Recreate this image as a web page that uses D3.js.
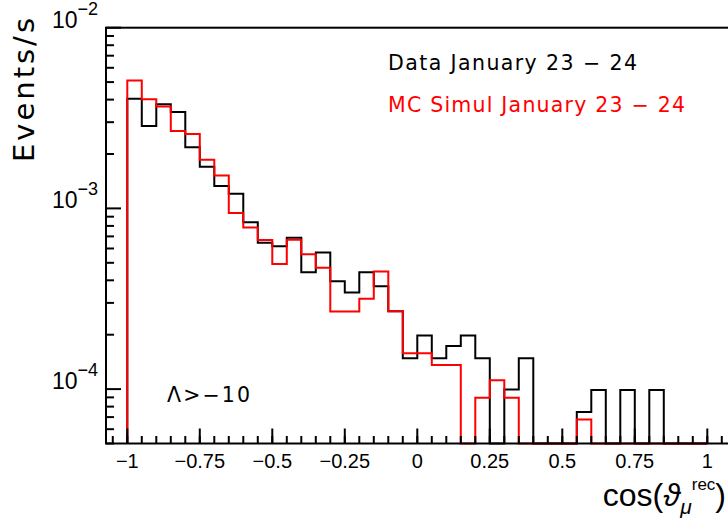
<!DOCTYPE html>
<html>
<head>
<meta charset="utf-8">
<script src="https://cdn.jsdelivr.net/npm/d3@7"></script>
<style>
  body { margin: 0; background: #fff; }
  svg { display: block; }
</style>
</head>
<body>
<script>
// bins: 40 bins of width 0.05 from -1 to 1
var binEdges = d3.range(41).map(function (i) { return -1 + i * 0.05; });

// Data January 23 - 24 (black), events/s per bin
var dataRates = [
  4.05e-3, 2.86e-3, 3.77e-3, 3.42e-3, 2.18e-3, 1.70e-3, 1.33e-3, 1.205e-3, 8.37e-4, 6.45e-4,
  6.17e-4, 6.89e-4, 4.43e-4, 5.71e-4, 3.95e-4, 3.43e-4, 4.43e-4, 3.71e-4, 2.70e-4, 1.48e-4,
  1.98e-4, 1.48e-4, 1.73e-4, 1.98e-4, 1.48e-4, 0, 9.96e-5, 1.48e-4, 0, 0,
  0, 7.46e-5, 9.9e-5, 0, 9.9e-5, 0, 9.9e-5, 0, 0, 0
];

// MC Simul January 23 - 24 (red)
var mcRates = [
  5.10e-3, 4.02e-3, 3.66e-3, 2.68e-3, 2.58e-3, 1.86e-3, 1.52e-3, 9.43e-4, 7.85e-4, 6.69e-4,
  4.93e-4, 6.71e-4, 5.57e-4, 4.70e-4, 2.69e-4, 2.69e-4, 3.16e-4, 4.47e-4, 2.70e-4, 1.58e-4,
  1.58e-4, 1.36e-4, 1.36e-4, 0, 8.97e-5, 1.12e-4, 8.97e-5, 0, 0, 0,
  0, 6.78e-5, 0, 0, 0, 0, 0, 0, 0, 0
];

var xMajorTicks = [-1, -0.75, -0.5, -0.25, 0, 0.25, 0.5, 0.75, 1];
var xTickLabels = ["\u22121", "\u22120.75", "\u22120.5", "\u22120.25", "0", "0.25", "0.5", "0.75", "1"];
var yMajorTicks = [1e-2, 1e-3, 1e-4];
var yTickExps = ["\u22122", "\u22123", "\u22124"];

var width = 728, height = 519;
var plotLeft = 106, plotTop = 27.7, plotBottom = 443.5, plotRight = 728;
var yMin = 5e-5, yMax = 1e-2;

var svg = d3.select("body").append("svg")
  .attr("width", width)
  .attr("height", height);

svg.append("rect").attr("width", width).attr("height", height).attr("fill", "#fff");

var x = d3.scaleLinear().domain([-1.0734, 1.0714]).range([plotLeft, plotRight]);
var y = d3.scaleLog().domain([yMin, yMax]).range([plotBottom, plotTop]);

// step outline like ROOT "hist" drawing
function stepPoints(vals) {
  var pts = [[binEdges[0], yMin]];
  vals.forEach(function (v, i) {
    var yv = v > 0 ? v : yMin;
    pts.push([binEdges[i], yv], [binEdges[i + 1], yv]);
  });
  pts.push([binEdges[binEdges.length - 1], yMin]);
  return pts;
}

var line = d3.line()
  .x(function (d) { return x(d[0]); })
  .y(function (d) { return y(d[1]); });

svg.append("path")
  .datum(stepPoints(dataRates))
  .attr("d", line)
  .attr("fill", "none")
  .attr("stroke", "#000")
  .attr("stroke-width", 2);

svg.append("path")
  .datum(stepPoints(mcRates))
  .attr("d", line)
  .attr("fill", "none")
  .attr("stroke", "#ff0000")
  .attr("stroke-width", 2);

// frame
svg.append("rect")
  .attr("x", plotLeft).attr("y", plotTop)
  .attr("width", plotRight - plotLeft + 10).attr("height", plotBottom - plotTop)
  .attr("fill", "none").attr("stroke", "#000").attr("stroke-width", 2);

// x ticks (pointing up)
var xMinor = d3.range(-21, 22).map(function (i) { return i * 0.05; })
  .filter(function (v) { return v >= x.domain()[0] && v <= x.domain()[1]; });

svg.selectAll(".xminor").data(xMinor).enter().append("line")
  .attr("x1", function (d) { return x(d); }).attr("x2", function (d) { return x(d); })
  .attr("y1", plotBottom).attr("y2", plotBottom - 7.5)
  .attr("stroke", "#000").attr("stroke-width", 2);

svg.selectAll(".xmajor").data(xMajorTicks).enter().append("line")
  .attr("x1", function (d) { return x(d); }).attr("x2", function (d) { return x(d); })
  .attr("y1", plotBottom).attr("y2", plotBottom - 15)
  .attr("stroke", "#000").attr("stroke-width", 2);

svg.selectAll(".xlab").data(xMajorTicks).enter().append("text")
  .attr("x", function (d) { return x(d); })
  .attr("y", 468)
  .attr("text-anchor", "middle")
  .attr("font-family", "'Liberation Sans', Arial, sans-serif")
  .attr("font-size", "20px")
  .text(function (d, i) { return xTickLabels[i]; });

// y ticks (pointing right)
var yMinor = [];
[-5, -4, -3].forEach(function (k) {
  d3.range(2, 10).forEach(function (m) {
    var v = m * Math.pow(10, k);
    if (v >= yMin * 0.999 && v < yMax) yMinor.push(v);
  });
});

svg.selectAll(".yminor").data(yMinor).enter().append("line")
  .attr("x1", plotLeft).attr("x2", plotLeft + 8)
  .attr("y1", function (d) { return y(d); }).attr("y2", function (d) { return y(d); })
  .attr("stroke", "#000").attr("stroke-width", 2);

svg.selectAll(".ymajor").data(yMajorTicks).enter().append("line")
  .attr("x1", plotLeft).attr("x2", plotLeft + 15)
  .attr("y1", function (d) { return y(d); }).attr("y2", function (d) { return y(d); })
  .attr("stroke", "#000").attr("stroke-width", 2);

var ylab = svg.selectAll(".ylab").data(yMajorTicks).enter().append("text")
  .attr("x", 98)
  .attr("y", function (d) { return y(d); })
  .attr("text-anchor", "end")
  .attr("font-family", "'Liberation Sans', Arial, sans-serif");
ylab.append("tspan").attr("font-size", "23px").text("10");
ylab.append("tspan").attr("font-size", "18px").attr("dy", -13)
  .text(function (d, i) { return yTickExps[i]; });

// axis titles
svg.append("text")
  .attr("transform", "translate(34,90) rotate(-90)")
  .attr("text-anchor", "middle")
  .attr("font-family", "'DejaVu Sans', sans-serif")
  .attr("font-size", "29px")
  .attr("textLength", 144)
  .attr("lengthAdjust", "spacing")
  .text("Events/s");

var xt = svg.append("text")
  .attr("x", 726).attr("y", 506)
  .attr("text-anchor", "end")
  .attr("font-family", "'Liberation Sans', Arial, sans-serif");
xt.append("tspan").attr("font-size", "32px").text("cos(");
xt.append("tspan").attr("font-size", "31px").attr("font-style", "italic").text("\u03D1");
xt.append("tspan").attr("font-size", "21px").attr("font-style", "italic").attr("dy", 8).text("\u03BC");
xt.append("tspan").attr("font-size", "17px").attr("dy", -24).text("rec");
xt.append("tspan").attr("font-size", "32px").attr("dy", 16).text(")");

// legend texts
svg.append("text")
  .attr("x", 388).attr("y", 70)
  .attr("font-family", "'DejaVu Sans', sans-serif")
  .attr("font-size", "20.5px")
  .attr("textLength", 249).attr("lengthAdjust", "spacing")
  .attr("fill", "#000")
  .text("Data January 23 \u2212 24");

svg.append("text")
  .attr("x", 388).attr("y", 111.5)
  .attr("font-family", "'DejaVu Sans', sans-serif")
  .attr("font-size", "20.5px")
  .attr("textLength", 297).attr("lengthAdjust", "spacing")
  .attr("fill", "#ff0000")
  .text("MC Simul January 23 \u2212 24");

svg.append("text")
  .attr("x", 167).attr("y", 402)
  .attr("font-family", "'DejaVu Sans', sans-serif")
  .attr("font-size", "20.5px")
  .attr("textLength", 83).attr("lengthAdjust", "spacing")
  .text("\u039B>\u221210");
</script>
</body>
</html>
